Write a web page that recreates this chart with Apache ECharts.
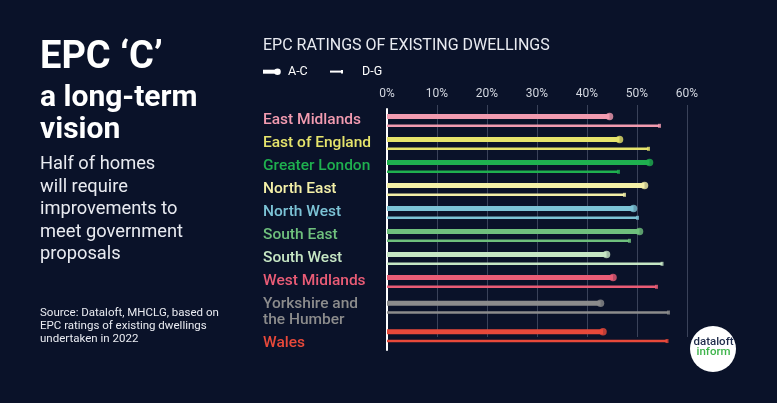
<!DOCTYPE html>
<html><head><meta charset="utf-8">
<script src="https://cdn.jsdelivr.net/npm/echarts@6/dist/echarts.min.js"></script>
<style>html,body{margin:0;padding:0;background:#0a1229;}#c{width:777px;height:403px;}</style>
</head><body><div id="c"></div>
<script>
// ---- data ----
const regions = ['East Midlands','East of England','Greater London','North East','North West','South East','South West','West Midlands','Yorkshire and\nthe Humber','Wales'];
const acShare = [44.5,46.5,52.5,51.5,49.3,50.5,43.9,45.2,42.7,43.2];   // A-C (%)
const dgShare = [54.5,52.3,46.3,47.5,50.1,48.5,55.0,53.9,56.3,56.0];   // D-G (%)
const tickLabels = ['0%','10%','20%','30%','40%','50%','60%'];
const seriesNames = ['A-C','D-G'];
// ---- styles ----
const regionColors = ['#f29bb0','#e6e46c','#1fb04f','#f4f0a8','#7cc3d6','#6fc07d','#c6e6c4','#ea5c76','#8c8c8c','#e8493a'];
const labelPadTop = [0,0,0,0,0,0,0,0,10,14];
const FONT = 'Roboto';
const BG = '#0a1229';

const chart = echarts.init(document.getElementById('c'), null, {renderer:'canvas'});

const baseLabel = {fontFamily:FONT, fontSize:15.5, fontWeight:500, lineHeight:15.5};
function yAxisFor(gi, start, end){
  const rich = {};
  for (let k = start; k < end; k++) rich['s'+k] = Object.assign({padding:[labelPadTop[k],0,0,0]}, baseLabel);
  return {
    type:'category', gridIndex:gi, inverse:true,
    data: regions.slice(start,end).map((r,i)=>({value:r, textStyle:{color:regionColors[start+i], align:'left'}})),
    axisLine:{show:true, lineStyle:{color:'#ffffff', width:2}},
    axisTick:{show:false},
    axisLabel:Object.assign({interval:0, align:'left', margin:124, hideOverlap:false, rich:rich,
      formatter:(v,i)=>v.split('\n').map(line=>'{s'+(start+i)+'|'+line+'}').join('\n')}, baseLabel)
  };
}
function xAxisFor(gi){
  return {type:'value', gridIndex:gi, min:0, max:60, interval:10, show:false};
}
function seriesFor(gi, start, end){
  const ac = acShare.slice(start,end), dg = dgShare.slice(start,end);
  const col = i => regionColors[start+i];
  return [
    {type:'bar', name:seriesNames[0], xAxisIndex:gi, yAxisIndex:gi, barWidth:5, barGap:'111%', z:2,
     data: ac.map((v,i)=>({value:v, itemStyle:{color:col(i)}}))},
    {type:'bar', name:seriesNames[1], xAxisIndex:gi, yAxisIndex:gi, barWidth:2.5, barGap:'111%', z:2,
     data: dg.map((v,i)=>({value:v, itemStyle:{color:col(i)}}))},
    {type:'scatter', xAxisIndex:gi, yAxisIndex:gi, symbol:'circle', symbolSize:7.5, symbolOffset:[0,-4], z:3,
     data: ac.map((v,i)=>({value:[v,i], itemStyle:{color:col(i)}}))},
    {type:'scatter', xAxisIndex:gi, yAxisIndex:gi, symbol:'rect', symbolSize:[3,4], symbolOffset:[0,5.3], z:3,
     data: dg.map((v,i)=>({value:[v,i], itemStyle:{color:col(i)}}))}
  ];
}

const txt = (text, x, y, size, weight, color, extra) => ({
  type:'text', x:x, y:y, silent:true,
  style:Object.assign({text:text, fill:color, font:weight+' '+size+'px '+FONT, textAlign:'left', textVerticalAlign:'middle'}, extra||{})
});

const option = {
  backgroundColor: BG,
  animation:false,
  grid:[
    {left:387, right:90, top:105, height:232},
    {left:387, right:90, top:109, height:184},
    {left:387, right:90, top:293, height:57}
  ],
  xAxis:[
    {type:'value', gridIndex:0, min:0, max:60, interval:10, position:'top',
     axisLine:{show:false}, axisTick:{show:false},
     axisLabel:{margin:5, color:'#d3d7e0', fontFamily:FONT, fontSize:12, formatter:v=>tickLabels[Math.round(v/10)]},
     splitLine:{show:true, lineStyle:{color:['rgba(0,0,0,0)','#3a4259','#3a4259','#3a4259','#3a4259','#3a4259','#3a4259'], width:1}}},
    xAxisFor(1), xAxisFor(2)
  ],
  yAxis:[
    {type:'value', gridIndex:0, show:false},
    yAxisFor(1,0,8), yAxisFor(2,8,10)
  ],
  series:[].concat(seriesFor(1,0,8), seriesFor(2,8,10)),
  graphic:[
    txt('EPC \u2018C\u2019', 40, 58, 38, 'bold', '#ffffff'),
    txt('a long-term', 40, 98, 30, 'bold', '#ffffff'),
    txt('vision', 40, 130, 30, 'bold', '#ffffff'),
    txt('Half of homes\nwill require\nimprovements to\nmeet government\nproposals', 40, 209.5, 18.3, 'normal', '#e9ebf1', {lineHeight:22.5}),
    txt('Source: Dataloft, MHCLG, based on\nEPC ratings of existing dwellings\nundertaken in 2022', 40, 326.5, 11.5, 'normal', '#e9ebf1', {lineHeight:13}),
    txt('EPC RATINGS OF EXISTING DWELLINGS', 263, 45.5, 16, 'normal', '#e9ebf1'),
    {type:'rect', silent:true, shape:{x:263, y:69.7, width:13, height:4}, style:{fill:'#ffffff'}},
    {type:'circle', silent:true, shape:{cx:277.5, cy:71.7, r:3.3}, style:{fill:'#ffffff'}},
    txt(seriesNames[0], 288, 71.5, 12.5, 'normal', '#ffffff'),
    {type:'rect', silent:true, shape:{x:330, y:70.6, width:12, height:2}, style:{fill:'#ffffff'}},
    {type:'rect', silent:true, shape:{x:341, y:69.9, width:2, height:3.5}, style:{fill:'#ffffff'}},
    txt(seriesNames[1], 362, 71.5, 12.5, 'normal', '#ffffff'),
    {type:'circle', silent:true, shape:{cx:713, cy:349, r:23}, style:{fill:'#ffffff'}},
    txt('dataloft', 713.5, 342, 11.5, '500', '#1e2a4a', {textAlign:'center'}),
    txt('inform', 713.5, 352.5, 11.5, '500', '#3db44a', {textAlign:'center'})
  ]
};
chart.setOption(option);
</script></body></html>
